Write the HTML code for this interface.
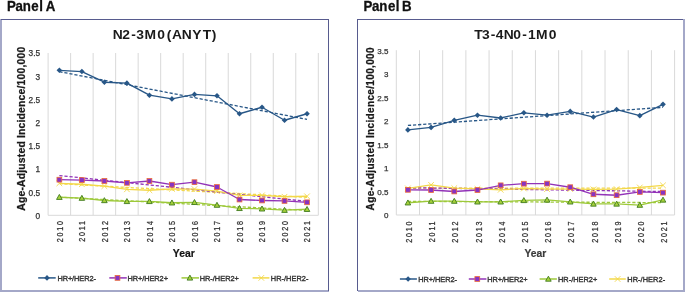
<!DOCTYPE html>
<html><head><meta charset="utf-8"><style>
html,body{margin:0;padding:0;background:#fff;width:685px;height:292px;overflow:hidden}
svg{display:block;will-change:transform}
text{font-family:"Liberation Sans", sans-serif}
</style></head><body>
<svg width="685" height="292" viewBox="0 0 685 292">
<rect width="685" height="292" fill="#fff"/>
<rect x="0" y="19" width="2" height="273" fill="#a4a8c8"/>
<rect x="0" y="290" width="329" height="2" fill="#a4a8c8"/>
<rect x="1" y="19" width="328" height="1" fill="#575b8e"/>
<rect x="328" y="19" width="1" height="272" fill="#575b8e"/>
<rect x="357" y="19" width="1" height="272" fill="#575b8e"/>
<rect x="357" y="19" width="327" height="1" fill="#575b8e"/>
<rect x="683" y="19" width="2" height="273" fill="#a4a8c8"/>
<rect x="358" y="290" width="327" height="2" fill="#a4a8c8"/>
<text transform="translate(0 10.8) scale(0.95 1)" x="7.38 16.33 23.92 33.03 41.39 45.79 48.07" y="0" font-size="14" font-weight="bold" fill="#111" stroke="#111" stroke-width="0.3">Panel A</text>
<text transform="translate(0 10.5) scale(0.95 1)" x="382.64 391.59 399.18 408.30 416.60 421.05 423.27" y="0" font-size="14" font-weight="bold" fill="#111" stroke="#111" stroke-width="0.3">Panel B</text>
<line x1="48.1" y1="53" x2="48.1" y2="215.3" stroke="#d9d9d9" stroke-width="1"/>
<line x1="70.62" y1="53" x2="70.62" y2="215.3" stroke="#d9d9d9" stroke-width="1"/>
<line x1="93.13" y1="53" x2="93.13" y2="215.3" stroke="#d9d9d9" stroke-width="1"/>
<line x1="115.65" y1="53" x2="115.65" y2="215.3" stroke="#d9d9d9" stroke-width="1"/>
<line x1="138.17" y1="53" x2="138.17" y2="215.3" stroke="#d9d9d9" stroke-width="1"/>
<line x1="160.68" y1="53" x2="160.68" y2="215.3" stroke="#d9d9d9" stroke-width="1"/>
<line x1="183.2" y1="53" x2="183.2" y2="215.3" stroke="#d9d9d9" stroke-width="1"/>
<line x1="205.72" y1="53" x2="205.72" y2="215.3" stroke="#d9d9d9" stroke-width="1"/>
<line x1="228.23" y1="53" x2="228.23" y2="215.3" stroke="#d9d9d9" stroke-width="1"/>
<line x1="250.75" y1="53" x2="250.75" y2="215.3" stroke="#d9d9d9" stroke-width="1"/>
<line x1="273.27" y1="53" x2="273.27" y2="215.3" stroke="#d9d9d9" stroke-width="1"/>
<line x1="295.78" y1="53" x2="295.78" y2="215.3" stroke="#d9d9d9" stroke-width="1"/>
<line x1="318.3" y1="53" x2="318.3" y2="215.3" stroke="#d9d9d9" stroke-width="1"/>
<line x1="48.1" y1="215.3" x2="318.3" y2="215.3" stroke="#d9d9d9" stroke-width="1"/>
<text x="40.1" y="218.7" text-anchor="end" font-size="8.3" fill="#333333" stroke="#333333" stroke-width="0.25">0</text>
<text x="40.1" y="195.51" text-anchor="end" font-size="8.3" fill="#333333" stroke="#333333" stroke-width="0.25">0.5</text>
<text x="40.1" y="172.33" text-anchor="end" font-size="8.3" fill="#333333" stroke="#333333" stroke-width="0.25">1</text>
<text x="40.1" y="149.14" text-anchor="end" font-size="8.3" fill="#333333" stroke="#333333" stroke-width="0.25">1.5</text>
<text x="40.1" y="125.96" text-anchor="end" font-size="8.3" fill="#333333" stroke="#333333" stroke-width="0.25">2</text>
<text x="40.1" y="102.77" text-anchor="end" font-size="8.3" fill="#333333" stroke="#333333" stroke-width="0.25">2.5</text>
<text x="40.1" y="79.59" text-anchor="end" font-size="8.3" fill="#333333" stroke="#333333" stroke-width="0.25">3</text>
<text x="40.1" y="56.4" text-anchor="end" font-size="8.3" fill="#333333" stroke="#333333" stroke-width="0.25">3.5</text>
<text transform="translate(62.76 219.2) rotate(-90) scale(0.86 1)" text-anchor="end" font-size="8.3" letter-spacing="2.1" fill="#333333" stroke="#333333" stroke-width="0.25">2010</text>
<text transform="translate(85.28 219.2) rotate(-90) scale(0.86 1)" text-anchor="end" font-size="8.3" letter-spacing="2.1" fill="#333333" stroke="#333333" stroke-width="0.25">2011</text>
<text transform="translate(107.79 219.2) rotate(-90) scale(0.86 1)" text-anchor="end" font-size="8.3" letter-spacing="2.1" fill="#333333" stroke="#333333" stroke-width="0.25">2012</text>
<text transform="translate(130.31 219.2) rotate(-90) scale(0.86 1)" text-anchor="end" font-size="8.3" letter-spacing="2.1" fill="#333333" stroke="#333333" stroke-width="0.25">2013</text>
<text transform="translate(152.82 219.2) rotate(-90) scale(0.86 1)" text-anchor="end" font-size="8.3" letter-spacing="2.1" fill="#333333" stroke="#333333" stroke-width="0.25">2014</text>
<text transform="translate(175.34 219.2) rotate(-90) scale(0.86 1)" text-anchor="end" font-size="8.3" letter-spacing="2.1" fill="#333333" stroke="#333333" stroke-width="0.25">2015</text>
<text transform="translate(197.86 219.2) rotate(-90) scale(0.86 1)" text-anchor="end" font-size="8.3" letter-spacing="2.1" fill="#333333" stroke="#333333" stroke-width="0.25">2016</text>
<text transform="translate(220.38 219.2) rotate(-90) scale(0.86 1)" text-anchor="end" font-size="8.3" letter-spacing="2.1" fill="#333333" stroke="#333333" stroke-width="0.25">2017</text>
<text transform="translate(242.89 219.2) rotate(-90) scale(0.86 1)" text-anchor="end" font-size="8.3" letter-spacing="2.1" fill="#333333" stroke="#333333" stroke-width="0.25">2018</text>
<text transform="translate(265.41 219.2) rotate(-90) scale(0.86 1)" text-anchor="end" font-size="8.3" letter-spacing="2.1" fill="#333333" stroke="#333333" stroke-width="0.25">2019</text>
<text transform="translate(287.92 219.2) rotate(-90) scale(0.86 1)" text-anchor="end" font-size="8.3" letter-spacing="2.1" fill="#333333" stroke="#333333" stroke-width="0.25">2020</text>
<text transform="translate(310.44 219.2) rotate(-90) scale(0.86 1)" text-anchor="end" font-size="8.3" letter-spacing="2.1" fill="#333333" stroke="#333333" stroke-width="0.25">2021</text>
<line x1="59.36" y1="183.71" x2="307.04" y2="197.31" stroke="#f3d84a" stroke-width="1.3" stroke-dasharray="3.2 1.9"/>
<line x1="59.36" y1="197.15" x2="307.04" y2="210.42" stroke="#9dc93a" stroke-width="1.3" stroke-dasharray="3.2 1.9"/>
<line x1="59.36" y1="175.55" x2="307.04" y2="201.4" stroke="#9233b8" stroke-width="1.3" stroke-dasharray="3.2 1.9"/>
<line x1="59.36" y1="71.66" x2="307.04" y2="119.42" stroke="#285787" stroke-width="1.3" stroke-dasharray="3.2 1.9"/>
<polyline points="59.36,183.3 81.88,184.23 104.39,186.09 126.91,189.33 149.42,190.26 171.94,188.87 194.46,189.1 216.97,191.19 239.49,195.36 262.01,195.36 284.52,196.75 307.04,196.29" fill="none" stroke="#f3d84a" stroke-width="1.35" stroke-linejoin="round"/>
<path d="M56.56 180.5L62.16 186.1M62.16 180.5L56.56 186.1" stroke="#f3d84a" stroke-width="0.9" fill="none"/>
<path d="M79.08 181.43L84.67 187.03M84.67 181.43L79.08 187.03" stroke="#f3d84a" stroke-width="0.9" fill="none"/>
<path d="M101.59 183.29L107.19 188.89M107.19 183.29L101.59 188.89" stroke="#f3d84a" stroke-width="0.9" fill="none"/>
<path d="M124.11 186.53L129.71 192.13M129.71 186.53L124.11 192.13" stroke="#f3d84a" stroke-width="0.9" fill="none"/>
<path d="M146.62 187.46L152.22 193.06M152.22 187.46L146.62 193.06" stroke="#f3d84a" stroke-width="0.9" fill="none"/>
<path d="M169.14 186.07L174.74 191.67M174.74 186.07L169.14 191.67" stroke="#f3d84a" stroke-width="0.9" fill="none"/>
<path d="M191.66 186.3L197.26 191.9M197.26 186.3L191.66 191.9" stroke="#f3d84a" stroke-width="0.9" fill="none"/>
<path d="M214.17 188.39L219.78 193.99M219.78 188.39L214.17 193.99" stroke="#f3d84a" stroke-width="0.9" fill="none"/>
<path d="M236.69 192.56L242.29 198.16M242.29 192.56L236.69 198.16" stroke="#f3d84a" stroke-width="0.9" fill="none"/>
<path d="M259.21 192.56L264.81 198.16M264.81 192.56L259.21 198.16" stroke="#f3d84a" stroke-width="0.9" fill="none"/>
<path d="M281.72 193.95L287.32 199.55M287.32 193.95L281.72 199.55" stroke="#f3d84a" stroke-width="0.9" fill="none"/>
<path d="M304.24 193.49L309.84 199.09M309.84 193.49L304.24 199.09" stroke="#f3d84a" stroke-width="0.9" fill="none"/>
<polyline points="59.36,197.22 81.88,198.14 104.39,200.46 126.91,201.39 149.42,201.39 171.94,202.78 194.46,202.32 216.97,205.1 239.49,208.34 262.01,208.81 284.52,210.2 307.04,209.27" fill="none" stroke="#9dc93a" stroke-width="1.35" stroke-linejoin="round"/>
<path d="M59.36 194.42L62.16 199.42L56.56 199.42Z" fill="#a6d13a" stroke="#3f7a1e" stroke-width="0.9" stroke-linejoin="miter"/>
<path d="M81.88 195.34L84.67 200.34L79.08 200.34Z" fill="#a6d13a" stroke="#3f7a1e" stroke-width="0.9" stroke-linejoin="miter"/>
<path d="M104.39 197.66L107.19 202.66L101.59 202.66Z" fill="#a6d13a" stroke="#3f7a1e" stroke-width="0.9" stroke-linejoin="miter"/>
<path d="M126.91 198.59L129.71 203.59L124.11 203.59Z" fill="#a6d13a" stroke="#3f7a1e" stroke-width="0.9" stroke-linejoin="miter"/>
<path d="M149.42 198.59L152.22 203.59L146.62 203.59Z" fill="#a6d13a" stroke="#3f7a1e" stroke-width="0.9" stroke-linejoin="miter"/>
<path d="M171.94 199.98L174.74 204.98L169.14 204.98Z" fill="#a6d13a" stroke="#3f7a1e" stroke-width="0.9" stroke-linejoin="miter"/>
<path d="M194.46 199.52L197.26 204.52L191.66 204.52Z" fill="#a6d13a" stroke="#3f7a1e" stroke-width="0.9" stroke-linejoin="miter"/>
<path d="M216.97 202.3L219.78 207.3L214.17 207.3Z" fill="#a6d13a" stroke="#3f7a1e" stroke-width="0.9" stroke-linejoin="miter"/>
<path d="M239.49 205.54L242.29 210.54L236.69 210.54Z" fill="#a6d13a" stroke="#3f7a1e" stroke-width="0.9" stroke-linejoin="miter"/>
<path d="M262.01 206.01L264.81 211.01L259.21 211.01Z" fill="#a6d13a" stroke="#3f7a1e" stroke-width="0.9" stroke-linejoin="miter"/>
<path d="M284.52 207.4L287.32 212.4L281.72 212.4Z" fill="#a6d13a" stroke="#3f7a1e" stroke-width="0.9" stroke-linejoin="miter"/>
<path d="M307.04 206.47L309.84 211.47L304.24 211.47Z" fill="#a6d13a" stroke="#3f7a1e" stroke-width="0.9" stroke-linejoin="miter"/>
<polyline points="59.36,179.69 81.88,180.06 104.39,180.99 126.91,182.84 149.42,180.99 171.94,184.69 194.46,182.19 216.97,187.01 239.49,199.53 262.01,200.46 284.52,200.92 307.04,202.32" fill="none" stroke="#9233b8" stroke-width="1.35" stroke-linejoin="round"/>
<rect x="56.96" y="177.29" width="4.8" height="4.8" fill="#8733c4" stroke="#ec6c3a" stroke-width="0.8"/>
<rect x="79.47" y="177.66" width="4.8" height="4.8" fill="#8733c4" stroke="#ec6c3a" stroke-width="0.8"/>
<rect x="101.99" y="178.59" width="4.8" height="4.8" fill="#8733c4" stroke="#ec6c3a" stroke-width="0.8"/>
<rect x="124.51" y="180.44" width="4.8" height="4.8" fill="#8733c4" stroke="#ec6c3a" stroke-width="0.8"/>
<rect x="147.02" y="178.59" width="4.8" height="4.8" fill="#8733c4" stroke="#ec6c3a" stroke-width="0.8"/>
<rect x="169.54" y="182.29" width="4.8" height="4.8" fill="#8733c4" stroke="#ec6c3a" stroke-width="0.8"/>
<rect x="192.06" y="179.79" width="4.8" height="4.8" fill="#8733c4" stroke="#ec6c3a" stroke-width="0.8"/>
<rect x="214.57" y="184.61" width="4.8" height="4.8" fill="#8733c4" stroke="#ec6c3a" stroke-width="0.8"/>
<rect x="237.09" y="197.13" width="4.8" height="4.8" fill="#8733c4" stroke="#ec6c3a" stroke-width="0.8"/>
<rect x="259.61" y="198.06" width="4.8" height="4.8" fill="#8733c4" stroke="#ec6c3a" stroke-width="0.8"/>
<rect x="282.12" y="198.52" width="4.8" height="4.8" fill="#8733c4" stroke="#ec6c3a" stroke-width="0.8"/>
<rect x="304.64" y="199.92" width="4.8" height="4.8" fill="#8733c4" stroke="#ec6c3a" stroke-width="0.8"/>
<polyline points="59.36,70.3 81.88,71.55 104.39,82.21 126.91,83.14 149.42,95.2 171.94,98.91 194.46,94.41 216.97,95.8 239.49,113.75 262.01,107.25 284.52,120.24 307.04,113.75" fill="none" stroke="#285787" stroke-width="1.35" stroke-linejoin="round"/>
<path d="M59.36 67.5L62.16 70.3L59.36 73.1L56.56 70.3Z" fill="#285787"/>
<path d="M81.88 68.75L84.67 71.55L81.88 74.35L79.08 71.55Z" fill="#285787"/>
<path d="M104.39 79.41L107.19 82.21L104.39 85.01L101.59 82.21Z" fill="#285787"/>
<path d="M126.91 80.34L129.71 83.14L126.91 85.94L124.11 83.14Z" fill="#285787"/>
<path d="M149.42 92.4L152.22 95.2L149.42 98L146.62 95.2Z" fill="#285787"/>
<path d="M171.94 96.11L174.74 98.91L171.94 101.71L169.14 98.91Z" fill="#285787"/>
<path d="M194.46 91.61L197.26 94.41L194.46 97.21L191.66 94.41Z" fill="#285787"/>
<path d="M216.97 93L219.78 95.8L216.97 98.6L214.17 95.8Z" fill="#285787"/>
<path d="M239.49 110.95L242.29 113.75L239.49 116.55L236.69 113.75Z" fill="#285787"/>
<path d="M262.01 104.45L264.81 107.25L262.01 110.05L259.21 107.25Z" fill="#285787"/>
<path d="M284.52 117.44L287.32 120.24L284.52 123.04L281.72 120.24Z" fill="#285787"/>
<path d="M307.04 110.95L309.84 113.75L307.04 116.55L304.24 113.75Z" fill="#285787"/>
<text transform="translate(0 38.8) scale(1.1 1)" x="102.52 111.11 119.42 123.98 131.43 142.87 151.55 156.32 165.34 174.69 184.31 192.44" y="0" font-size="12.6" font-weight="bold" fill="#1a1a1a">N2-3M0(ANYT)</text>
<text x="172.8" y="256.9" font-size="11" font-weight="bold" fill="#141414" stroke="#141414" stroke-width="0.2" textLength="21.9" lengthAdjust="spacingAndGlyphs">Year</text>
<text transform="translate(24.6 128.8) rotate(-90)" text-anchor="middle" font-size="10.4" font-weight="bold" fill="#1a1a1a" stroke="#1a1a1a" stroke-width="0.25" textLength="164" lengthAdjust="spacing">Age-Adjusted Incidence/100,000</text>
<line x1="38.2" y1="277.9" x2="55.7" y2="277.9" stroke="#285787" stroke-width="1.5"/>
<path d="M47 275.1L49.8 277.9L47 280.7L44.2 277.9Z" fill="#285787"/>
<text x="57.4" y="280.85" font-size="7.4" fill="#333333" stroke="#333333" stroke-width="0.35" textLength="38.5" lengthAdjust="spacing">HR+/HER2-</text>
<line x1="109.3" y1="277.9" x2="126.8" y2="277.9" stroke="#9233b8" stroke-width="1.5"/>
<rect x="115.1" y="275.5" width="4.8" height="4.8" fill="#8733c4" stroke="#ec6c3a" stroke-width="0.8"/>
<text x="127.4" y="280.85" font-size="7.4" fill="#333333" stroke="#333333" stroke-width="0.35" textLength="40.6" lengthAdjust="spacing">HR+/HER2+</text>
<line x1="181.5" y1="277.9" x2="199" y2="277.9" stroke="#9dc93a" stroke-width="1.5"/>
<path d="M189.9 275.1L192.7 280.1L187.1 280.1Z" fill="#a6d13a" stroke="#3f7a1e" stroke-width="0.9" stroke-linejoin="miter"/>
<text x="199.7" y="280.85" font-size="7.4" fill="#333333" stroke="#333333" stroke-width="0.35" textLength="39.2" lengthAdjust="spacing">HR-/HER2+</text>
<line x1="252.6" y1="277.9" x2="269.4" y2="277.9" stroke="#f3d84a" stroke-width="1.5"/>
<path d="M258.5 275.1L264.1 280.7M264.1 275.1L258.5 280.7" stroke="#f3d84a" stroke-width="0.9" fill="none"/>
<text x="270.8" y="280.85" font-size="7.4" fill="#333333" stroke="#333333" stroke-width="0.35" textLength="37.6" lengthAdjust="spacing">HR-/HER2-</text>
<line x1="396.3" y1="50.2" x2="396.3" y2="215" stroke="#d9d9d9" stroke-width="1"/>
<line x1="419.49" y1="50.2" x2="419.49" y2="215" stroke="#d9d9d9" stroke-width="1"/>
<line x1="442.68" y1="50.2" x2="442.68" y2="215" stroke="#d9d9d9" stroke-width="1"/>
<line x1="465.88" y1="50.2" x2="465.88" y2="215" stroke="#d9d9d9" stroke-width="1"/>
<line x1="489.07" y1="50.2" x2="489.07" y2="215" stroke="#d9d9d9" stroke-width="1"/>
<line x1="512.26" y1="50.2" x2="512.26" y2="215" stroke="#d9d9d9" stroke-width="1"/>
<line x1="535.45" y1="50.2" x2="535.45" y2="215" stroke="#d9d9d9" stroke-width="1"/>
<line x1="558.64" y1="50.2" x2="558.64" y2="215" stroke="#d9d9d9" stroke-width="1"/>
<line x1="581.83" y1="50.2" x2="581.83" y2="215" stroke="#d9d9d9" stroke-width="1"/>
<line x1="605.02" y1="50.2" x2="605.02" y2="215" stroke="#d9d9d9" stroke-width="1"/>
<line x1="628.22" y1="50.2" x2="628.22" y2="215" stroke="#d9d9d9" stroke-width="1"/>
<line x1="651.41" y1="50.2" x2="651.41" y2="215" stroke="#d9d9d9" stroke-width="1"/>
<line x1="674.6" y1="50.2" x2="674.6" y2="215" stroke="#d9d9d9" stroke-width="1"/>
<line x1="396.3" y1="215" x2="674.6" y2="215" stroke="#d9d9d9" stroke-width="1"/>
<text x="388.4" y="218.4" text-anchor="end" font-size="8.0" fill="#333333" stroke="#333333" stroke-width="0.25">0</text>
<text x="388.4" y="194.86" text-anchor="end" font-size="8.0" fill="#333333" stroke="#333333" stroke-width="0.25">0.5</text>
<text x="388.4" y="171.31" text-anchor="end" font-size="8.0" fill="#333333" stroke="#333333" stroke-width="0.25">1</text>
<text x="388.4" y="147.77" text-anchor="end" font-size="8.0" fill="#333333" stroke="#333333" stroke-width="0.25">1.5</text>
<text x="388.4" y="124.23" text-anchor="end" font-size="8.0" fill="#333333" stroke="#333333" stroke-width="0.25">2</text>
<text x="388.4" y="100.69" text-anchor="end" font-size="8.0" fill="#333333" stroke="#333333" stroke-width="0.25">2.5</text>
<text x="388.4" y="77.14" text-anchor="end" font-size="8.0" fill="#333333" stroke="#333333" stroke-width="0.25">3</text>
<text x="388.4" y="53.6" text-anchor="end" font-size="8.0" fill="#333333" stroke="#333333" stroke-width="0.25">3.5</text>
<text transform="translate(412 219.6) rotate(-90) scale(0.86 1)" text-anchor="end" font-size="8.3" letter-spacing="2.1" fill="#333333" stroke="#333333" stroke-width="0.25">2010</text>
<text transform="translate(435.19 219.6) rotate(-90) scale(0.86 1)" text-anchor="end" font-size="8.3" letter-spacing="2.1" fill="#333333" stroke="#333333" stroke-width="0.25">2011</text>
<text transform="translate(458.38 219.6) rotate(-90) scale(0.86 1)" text-anchor="end" font-size="8.3" letter-spacing="2.1" fill="#333333" stroke="#333333" stroke-width="0.25">2012</text>
<text transform="translate(481.57 219.6) rotate(-90) scale(0.86 1)" text-anchor="end" font-size="8.3" letter-spacing="2.1" fill="#333333" stroke="#333333" stroke-width="0.25">2013</text>
<text transform="translate(504.76 219.6) rotate(-90) scale(0.86 1)" text-anchor="end" font-size="8.3" letter-spacing="2.1" fill="#333333" stroke="#333333" stroke-width="0.25">2014</text>
<text transform="translate(527.95 219.6) rotate(-90) scale(0.86 1)" text-anchor="end" font-size="8.3" letter-spacing="2.1" fill="#333333" stroke="#333333" stroke-width="0.25">2015</text>
<text transform="translate(551.15 219.6) rotate(-90) scale(0.86 1)" text-anchor="end" font-size="8.3" letter-spacing="2.1" fill="#333333" stroke="#333333" stroke-width="0.25">2016</text>
<text transform="translate(574.34 219.6) rotate(-90) scale(0.86 1)" text-anchor="end" font-size="8.3" letter-spacing="2.1" fill="#333333" stroke="#333333" stroke-width="0.25">2017</text>
<text transform="translate(597.53 219.6) rotate(-90) scale(0.86 1)" text-anchor="end" font-size="8.3" letter-spacing="2.1" fill="#333333" stroke="#333333" stroke-width="0.25">2018</text>
<text transform="translate(620.72 219.6) rotate(-90) scale(0.86 1)" text-anchor="end" font-size="8.3" letter-spacing="2.1" fill="#333333" stroke="#333333" stroke-width="0.25">2019</text>
<text transform="translate(643.91 219.6) rotate(-90) scale(0.86 1)" text-anchor="end" font-size="8.3" letter-spacing="2.1" fill="#333333" stroke="#333333" stroke-width="0.25">2020</text>
<text transform="translate(667.1 219.6) rotate(-90) scale(0.86 1)" text-anchor="end" font-size="8.3" letter-spacing="2.1" fill="#333333" stroke="#333333" stroke-width="0.25">2021</text>
<line x1="407.9" y1="188.23" x2="663" y2="188.11" stroke="#f3d84a" stroke-width="1.3" stroke-dasharray="3.2 1.9"/>
<line x1="407.9" y1="201.3" x2="663" y2="202.64" stroke="#9dc93a" stroke-width="1.3" stroke-dasharray="3.2 1.9"/>
<line x1="407.9" y1="187.66" x2="663" y2="191.55" stroke="#9233b8" stroke-width="1.3" stroke-dasharray="3.2 1.9"/>
<line x1="407.9" y1="125.46" x2="663" y2="107.35" stroke="#285787" stroke-width="1.3" stroke-dasharray="3.2 1.9"/>
<polyline points="407.9,188.4 431.09,184.87 454.28,188.16 477.47,188.87 500.66,189.81 523.85,188.49 547.05,189.1 570.24,189.1 593.43,189.34 616.62,189.1 639.81,187.45 663,185.34" fill="none" stroke="#f3d84a" stroke-width="1.35" stroke-linejoin="round"/>
<path d="M405.1 185.6L410.7 191.2M410.7 185.6L405.1 191.2" stroke="#f3d84a" stroke-width="0.9" fill="none"/>
<path d="M428.29 182.07L433.89 187.67M433.89 182.07L428.29 187.67" stroke="#f3d84a" stroke-width="0.9" fill="none"/>
<path d="M451.48 185.36L457.08 190.96M457.08 185.36L451.48 190.96" stroke="#f3d84a" stroke-width="0.9" fill="none"/>
<path d="M474.67 186.07L480.27 191.67M480.27 186.07L474.67 191.67" stroke="#f3d84a" stroke-width="0.9" fill="none"/>
<path d="M497.86 187.01L503.46 192.61M503.46 187.01L497.86 192.61" stroke="#f3d84a" stroke-width="0.9" fill="none"/>
<path d="M521.05 185.69L526.65 191.29M526.65 185.69L521.05 191.29" stroke="#f3d84a" stroke-width="0.9" fill="none"/>
<path d="M544.25 186.3L549.85 191.9M549.85 186.3L544.25 191.9" stroke="#f3d84a" stroke-width="0.9" fill="none"/>
<path d="M567.44 186.3L573.04 191.9M573.04 186.3L567.44 191.9" stroke="#f3d84a" stroke-width="0.9" fill="none"/>
<path d="M590.63 186.54L596.23 192.14M596.23 186.54L590.63 192.14" stroke="#f3d84a" stroke-width="0.9" fill="none"/>
<path d="M613.82 186.3L619.42 191.9M619.42 186.3L613.82 191.9" stroke="#f3d84a" stroke-width="0.9" fill="none"/>
<path d="M637.01 184.65L642.61 190.25M642.61 184.65L637.01 190.25" stroke="#f3d84a" stroke-width="0.9" fill="none"/>
<path d="M660.2 182.54L665.8 188.14M665.8 182.54L660.2 188.14" stroke="#f3d84a" stroke-width="0.9" fill="none"/>
<polyline points="407.9,202.76 431.09,201.11 454.28,201.11 477.47,201.82 500.66,201.82 523.85,200.4 547.05,199.93 570.24,201.82 593.43,203.93 616.62,203.93 639.81,205.11 663,199.93" fill="none" stroke="#9dc93a" stroke-width="1.35" stroke-linejoin="round"/>
<path d="M407.9 199.96L410.7 204.96L405.1 204.96Z" fill="#a6d13a" stroke="#3f7a1e" stroke-width="0.9" stroke-linejoin="miter"/>
<path d="M431.09 198.31L433.89 203.31L428.29 203.31Z" fill="#a6d13a" stroke="#3f7a1e" stroke-width="0.9" stroke-linejoin="miter"/>
<path d="M454.28 198.31L457.08 203.31L451.48 203.31Z" fill="#a6d13a" stroke="#3f7a1e" stroke-width="0.9" stroke-linejoin="miter"/>
<path d="M477.47 199.02L480.27 204.02L474.67 204.02Z" fill="#a6d13a" stroke="#3f7a1e" stroke-width="0.9" stroke-linejoin="miter"/>
<path d="M500.66 199.02L503.46 204.02L497.86 204.02Z" fill="#a6d13a" stroke="#3f7a1e" stroke-width="0.9" stroke-linejoin="miter"/>
<path d="M523.85 197.6L526.65 202.6L521.05 202.6Z" fill="#a6d13a" stroke="#3f7a1e" stroke-width="0.9" stroke-linejoin="miter"/>
<path d="M547.05 197.13L549.85 202.13L544.25 202.13Z" fill="#a6d13a" stroke="#3f7a1e" stroke-width="0.9" stroke-linejoin="miter"/>
<path d="M570.24 199.02L573.04 204.02L567.44 204.02Z" fill="#a6d13a" stroke="#3f7a1e" stroke-width="0.9" stroke-linejoin="miter"/>
<path d="M593.43 201.13L596.23 206.13L590.63 206.13Z" fill="#a6d13a" stroke="#3f7a1e" stroke-width="0.9" stroke-linejoin="miter"/>
<path d="M616.62 201.13L619.42 206.13L613.82 206.13Z" fill="#a6d13a" stroke="#3f7a1e" stroke-width="0.9" stroke-linejoin="miter"/>
<path d="M639.81 202.31L642.61 207.31L637.01 207.31Z" fill="#a6d13a" stroke="#3f7a1e" stroke-width="0.9" stroke-linejoin="miter"/>
<path d="M663 197.13L665.8 202.13L660.2 202.13Z" fill="#a6d13a" stroke="#3f7a1e" stroke-width="0.9" stroke-linejoin="miter"/>
<polyline points="407.9,189.81 431.09,190.04 454.28,191.46 477.47,190.04 500.66,185.34 523.85,183.69 547.05,183.59 570.24,187.22 593.43,194.28 616.62,195.22 639.81,191.93 663,192.63" fill="none" stroke="#9233b8" stroke-width="1.35" stroke-linejoin="round"/>
<rect x="405.5" y="187.41" width="4.8" height="4.8" fill="#8733c4" stroke="#ec6c3a" stroke-width="0.8"/>
<rect x="428.69" y="187.64" width="4.8" height="4.8" fill="#8733c4" stroke="#ec6c3a" stroke-width="0.8"/>
<rect x="451.88" y="189.06" width="4.8" height="4.8" fill="#8733c4" stroke="#ec6c3a" stroke-width="0.8"/>
<rect x="475.07" y="187.64" width="4.8" height="4.8" fill="#8733c4" stroke="#ec6c3a" stroke-width="0.8"/>
<rect x="498.26" y="182.94" width="4.8" height="4.8" fill="#8733c4" stroke="#ec6c3a" stroke-width="0.8"/>
<rect x="521.45" y="181.29" width="4.8" height="4.8" fill="#8733c4" stroke="#ec6c3a" stroke-width="0.8"/>
<rect x="544.65" y="181.19" width="4.8" height="4.8" fill="#8733c4" stroke="#ec6c3a" stroke-width="0.8"/>
<rect x="567.84" y="184.82" width="4.8" height="4.8" fill="#8733c4" stroke="#ec6c3a" stroke-width="0.8"/>
<rect x="591.03" y="191.88" width="4.8" height="4.8" fill="#8733c4" stroke="#ec6c3a" stroke-width="0.8"/>
<rect x="614.22" y="192.82" width="4.8" height="4.8" fill="#8733c4" stroke="#ec6c3a" stroke-width="0.8"/>
<rect x="637.41" y="189.53" width="4.8" height="4.8" fill="#8733c4" stroke="#ec6c3a" stroke-width="0.8"/>
<rect x="660.6" y="190.23" width="4.8" height="4.8" fill="#8733c4" stroke="#ec6c3a" stroke-width="0.8"/>
<polyline points="407.9,129.92 431.09,127.42 454.28,120.36 477.47,115.18 500.66,118 523.85,112.82 547.05,115.18 570.24,111.41 593.43,117.06 616.62,109.53 639.81,115.65 663,104.35" fill="none" stroke="#285787" stroke-width="1.35" stroke-linejoin="round"/>
<path d="M407.9 127.12L410.7 129.92L407.9 132.72L405.1 129.92Z" fill="#285787"/>
<path d="M431.09 124.62L433.89 127.42L431.09 130.22L428.29 127.42Z" fill="#285787"/>
<path d="M454.28 117.56L457.08 120.36L454.28 123.16L451.48 120.36Z" fill="#285787"/>
<path d="M477.47 112.38L480.27 115.18L477.47 117.98L474.67 115.18Z" fill="#285787"/>
<path d="M500.66 115.2L503.46 118L500.66 120.8L497.86 118Z" fill="#285787"/>
<path d="M523.85 110.02L526.65 112.82L523.85 115.62L521.05 112.82Z" fill="#285787"/>
<path d="M547.05 112.38L549.85 115.18L547.05 117.98L544.25 115.18Z" fill="#285787"/>
<path d="M570.24 108.61L573.04 111.41L570.24 114.21L567.44 111.41Z" fill="#285787"/>
<path d="M593.43 114.26L596.23 117.06L593.43 119.86L590.63 117.06Z" fill="#285787"/>
<path d="M616.62 106.73L619.42 109.53L616.62 112.33L613.82 109.53Z" fill="#285787"/>
<path d="M639.81 112.85L642.61 115.65L639.81 118.45L637.01 115.65Z" fill="#285787"/>
<path d="M663 101.55L665.8 104.35L663 107.15L660.2 104.35Z" fill="#285787"/>
<text transform="translate(0 38.8) scale(1.1 1)" x="431.13 438.26 446.05 450.63 457.98 466.59 474.69 480.02 487.25 498.87" y="0" font-size="12.6" font-weight="bold" fill="#1a1a1a">T3-4N0-1M0</text>
<text x="524.5" y="257.2" font-size="11" font-weight="bold" fill="#3a3a3a" stroke="#3a3a3a" stroke-width="0.2" textLength="21.7" lengthAdjust="spacingAndGlyphs">Year</text>
<text transform="translate(373.6 128.9) rotate(-90)" text-anchor="middle" font-size="10.0" font-weight="bold" fill="#1a1a1a" stroke="#1a1a1a" stroke-width="0.25" textLength="163" lengthAdjust="spacing">Age-Adjusted Incidence/100,000</text>
<line x1="399.9" y1="279" x2="416.9" y2="279" stroke="#285787" stroke-width="1.5"/>
<path d="M408.1 276.2L410.9 279L408.1 281.8L405.3 279Z" fill="#285787"/>
<text x="418.3" y="281.7" font-size="7.4" fill="#333333" stroke="#333333" stroke-width="0.35" textLength="38.6" lengthAdjust="spacing">HR+/HER2-</text>
<line x1="468.8" y1="279" x2="486.4" y2="279" stroke="#9233b8" stroke-width="1.5"/>
<rect x="474.9" y="276.6" width="4.8" height="4.8" fill="#8733c4" stroke="#ec6c3a" stroke-width="0.8"/>
<text x="487.2" y="281.7" font-size="7.4" fill="#333333" stroke="#333333" stroke-width="0.35" textLength="40.3" lengthAdjust="spacing">HR+/HER2+</text>
<line x1="539.6" y1="279" x2="556.9" y2="279" stroke="#9dc93a" stroke-width="1.5"/>
<path d="M548.4 276.2L551.2 281.2L545.6 281.2Z" fill="#a6d13a" stroke="#3f7a1e" stroke-width="0.9" stroke-linejoin="miter"/>
<text x="558" y="281.7" font-size="7.4" fill="#333333" stroke="#333333" stroke-width="0.35" textLength="39.3" lengthAdjust="spacing">HR-/HER2+</text>
<line x1="609.2" y1="279" x2="625.8" y2="279" stroke="#f3d84a" stroke-width="1.5"/>
<path d="M614.8 276.2L620.4 281.8M620.4 276.2L614.8 281.8" stroke="#f3d84a" stroke-width="0.9" fill="none"/>
<text x="627.3" y="281.7" font-size="7.4" fill="#333333" stroke="#333333" stroke-width="0.35" textLength="37.8" lengthAdjust="spacing">HR-/HER2-</text>
</svg>
</body></html>
